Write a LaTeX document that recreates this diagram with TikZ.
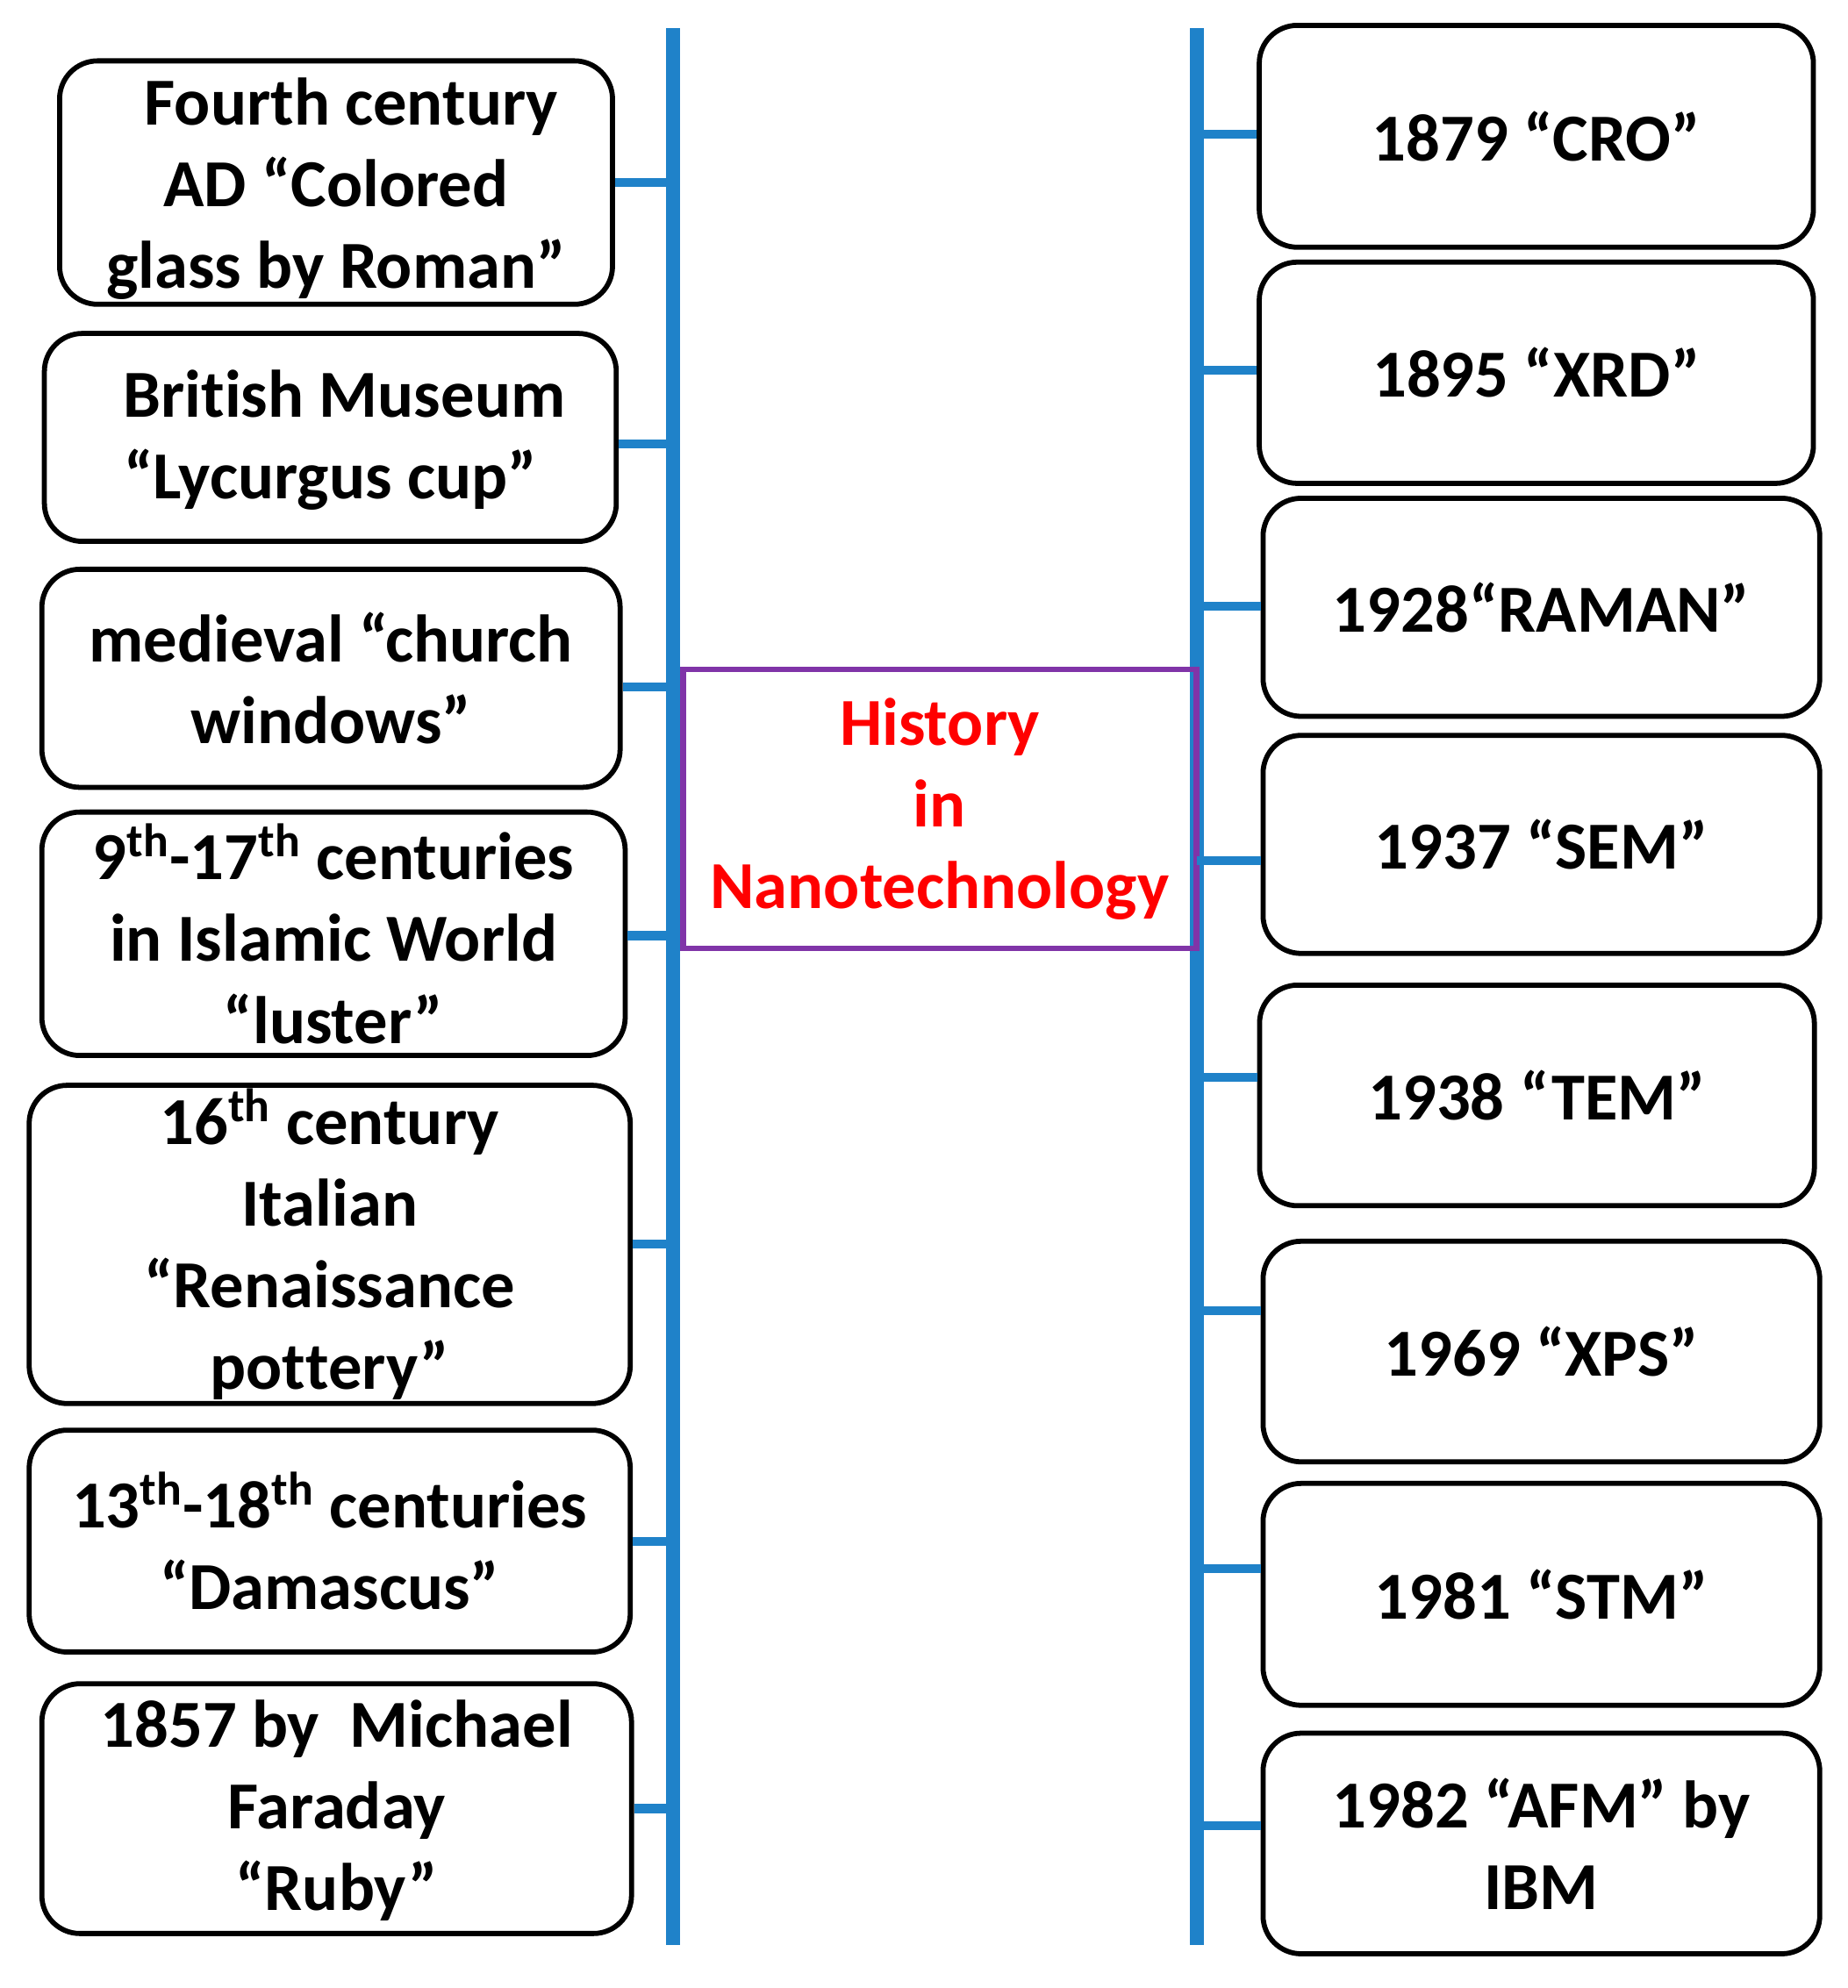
\documentclass[tikz,border=0pt]{standalone}
\usepackage{fontspec}
\setmainfont{Carlito}[Ligatures={NoCommon}]
\definecolor{tlblue}{RGB}{31,130,201}
\definecolor{tlpurple}{RGB}{128,52,168}
\newcommand{\nolig}{\kern0pt\relax}
\begin{document}
\begin{tikzpicture}[x=0.5pt,y=-0.5pt,
  txt/.style={font=\fontsize{26.5}{32.2}\selectfont\bfseries},
  box/.style={draw=black, line width=2pt, rounded corners=15pt, align=center, inner sep=0pt, txt},
  titlebox/.style={draw=tlpurple, line width=2.3pt, text=red, align=center, inner sep=0pt, txt},
  bline/.style={draw=tlblue, line width=5.5pt},
  conn/.style={draw=tlblue, line width=3.5pt}]
\useasboundingbox (0,0) rectangle (1457,1568);

% timeline axes
\coordinate (LT) at (531,22);
\coordinate (LB) at (531,1534);
\coordinate (RT) at (944,22);
\coordinate (RB) at (944,1534);
\draw[bline] (LT) -- (LB);
\draw[bline] (RT) -- (RB);

% centre title
\node[titlebox, minimum width=202.5pt, minimum height=110pt] (T) at (741,638) {History\\in\\Nanotechnology};

% left boxes
\node[box, minimum width=218pt, minimum height=96pt] (L1) at (265,144)
  {\rule{0pt}{23.5pt}\hspace*{12pt}Fourth century\\AD “Colored\\glass by Roman”};
\node[box, minimum width=225.5pt, minimum height=82pt] (L2) at (260.5,345)
  {\rule{0pt}{20.5pt}\hspace*{11pt}Brit\nolig ish Museum\\“Lycurgus cup”};
\node[box, minimum width=228pt, minimum height=86pt] (L3) at (261,535)
  {medieval “church\\windows”};
\node[box, minimum width=230pt, minimum height=96pt] (L4) at (263,736.5)
  {9\textsuperscript{th}-17\textsuperscript{th} centuries\\in Islamic World\\“luster”};
\node[box, minimum width=237pt, minimum height=125.5pt] (L5) at (260,981.5)
  {16\textsuperscript{th} century\\Italian\\“Renaissance\\pot\nolig tery”};
\node[box, minimum width=237pt, minimum height=87.5pt] (L6) at (260,1215.5)
  {13\textsuperscript{th}-18\textsuperscript{th} centuries\\“Damascus”};
\node[box, minimum width=232.5pt, minimum height=98.5pt] (L7) at (265.5,1426.5)
  {\rule{0pt}{20pt}1857 by\ \ Michael\\Faraday\\“Ruby”};

% right boxes
\node[box, minimum width=218.5pt, minimum height=87.5pt] (R1) at (1211.5,107.5) {1879 “CRO”};
\node[box, minimum width=218.5pt, minimum height=87.25pt] (R2) at (1211.5,294) {1895 “XRD”};
\node[box, minimum width=219.5pt, minimum height=86pt] (R3) at (1215.5,479) {1928“RAMAN”};
\node[box, minimum width=219.5pt, minimum height=86pt] (R4) at (1215.5,666) {1937 “SEM”};
\node[box, minimum width=218.75pt, minimum height=87pt] (R5) at (1212,864) {1938 “TEM”};
\node[box, minimum width=219.5pt, minimum height=87pt] (R6) at (1215.5,1066) {1969 “XPS”};
\node[box, minimum width=219.5pt, minimum height=87.5pt] (R7) at (1215.5,1257.5) {1981 “STM”};
\node[box, minimum width=219.5pt, minimum height=87pt] (R8) at (1215.5,1454) {1982 “AFM” by\\IBM};

% connector start points
\coordinate (cL1) at (L1.east);
\coordinate (cL2) at ([yshift=-2.5pt]L2.east);
\coordinate (cL3) at ([yshift=-3.5pt]L3.east);
\coordinate (cL4) at ([yshift=-0.75pt]L4.east);
\coordinate (cL5) at (L5.east);
\coordinate (cL6) at (L6.east);
\coordinate (cL7) at (L7.east);
\coordinate (cR1) at ([yshift=0.75pt]R1.west);
\coordinate (cR2) at ([yshift=1pt]R2.west);
\coordinate (cR3) at ([yshift=0.5pt]R3.west);
\coordinate (cR4) at ([yshift=-6.5pt]R4.west);
\coordinate (cR5) at ([yshift=7pt]R5.west);
\coordinate (cR6) at ([yshift=16pt]R6.west);
\coordinate (cR7) at ([yshift=10.25pt]R7.west);
\coordinate (cR8) at ([yshift=7pt]R8.west);

\foreach \c in {cL1,cL2,cL3,cL4,cL5,cL6,cL7}
  \draw[conn] (\c) -- (\c -| LT);
\foreach \c in {cR1,cR2,cR3,cR4,cR5,cR6,cR7,cR8}
  \draw[conn] (\c -| RT) -- (\c);
\end{tikzpicture}
\end{document}
